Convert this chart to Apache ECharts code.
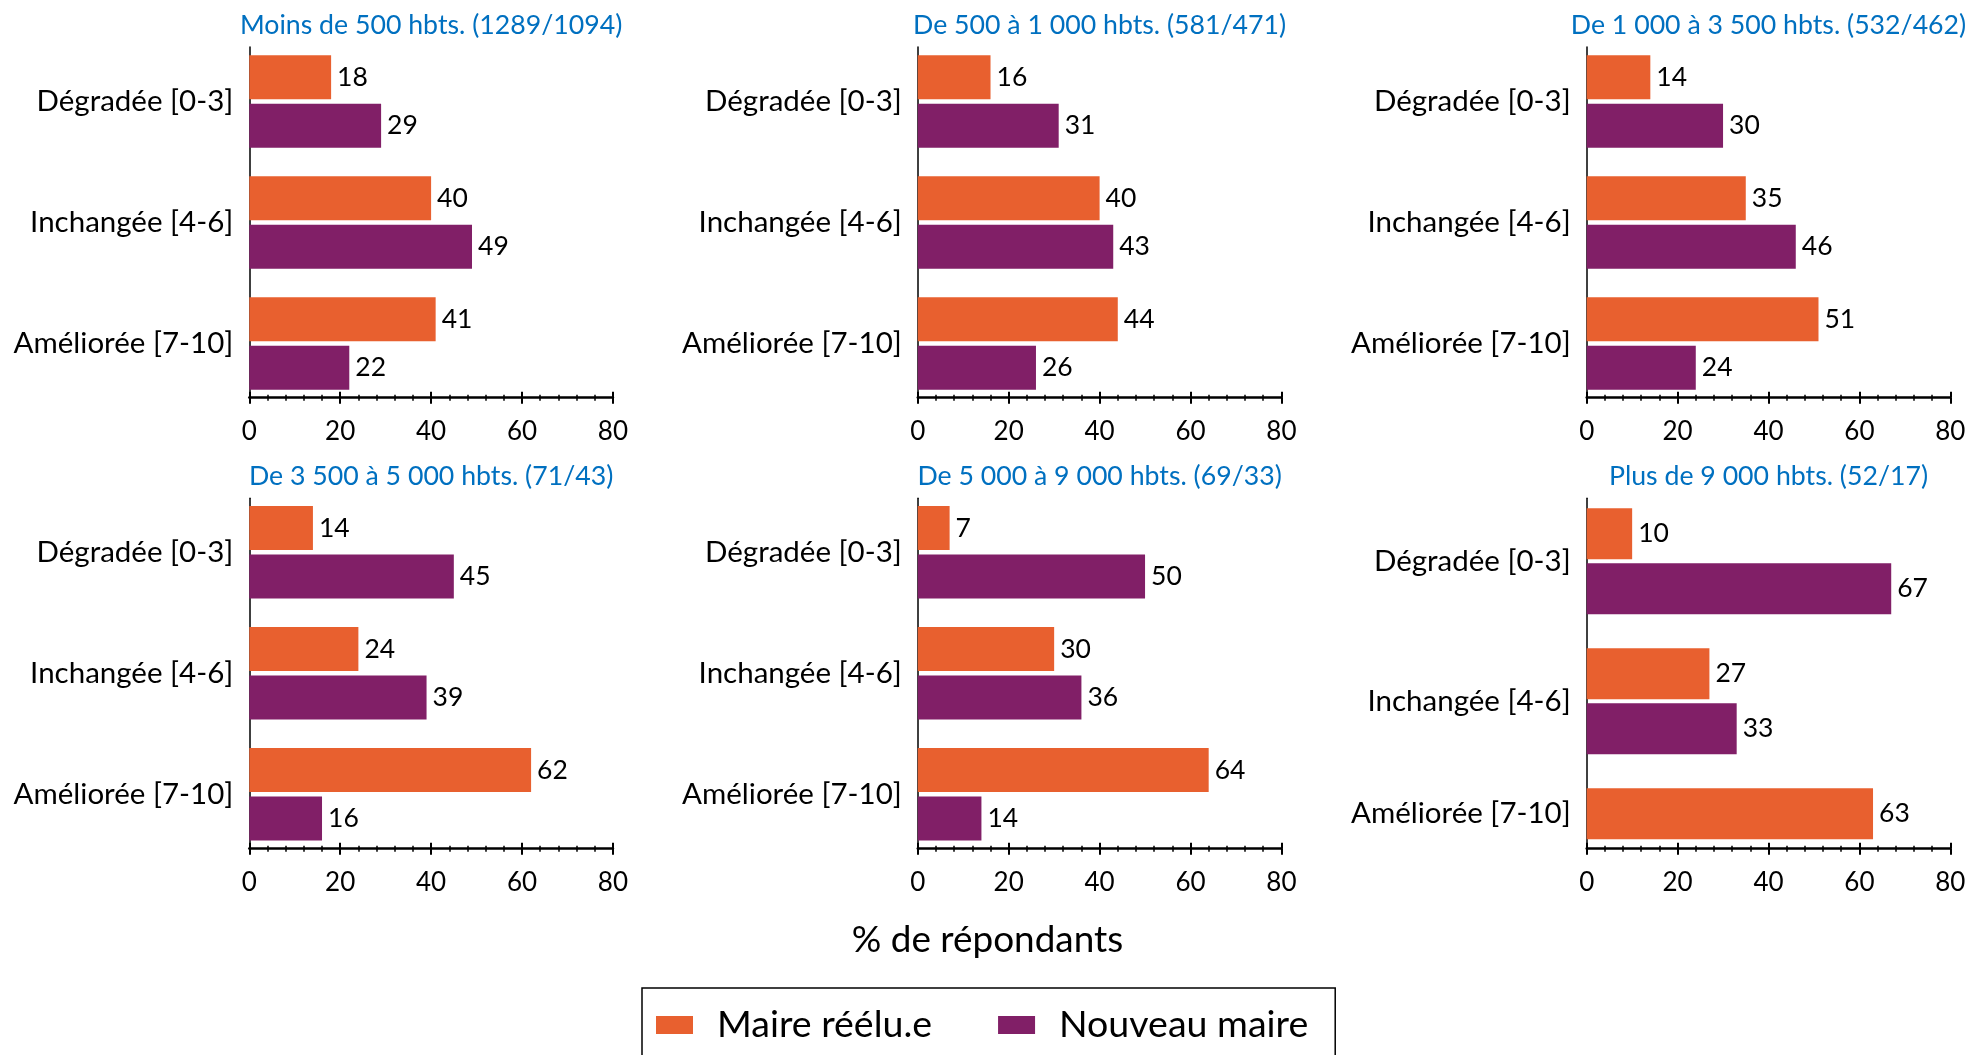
<!DOCTYPE html>
<html><head><meta charset="utf-8">
<script src="https://cdn.jsdelivr.net/npm/echarts@6/dist/echarts.min.js"></script>
<style>html,body{margin:0;padding:0;background:#fff}#c{width:1971px;height:1055px}</style>
</head><body><div id="c"></div>
<script>
const categories = ['Dégradée [0-3]', 'Inchangée [4-6]', 'Améliorée [7-10]'];
const panelTitles = ['Moins de 500 hbts. (1289/1094)', 'De 500 à 1 000 hbts. (581/471)', 'De 1 000 à 3 500 hbts. (532/462)',
                     'De 3 500 à 5 000 hbts. (71/43)', 'De 5 000 à 9 000 hbts. (69/33)', 'Plus de 9 000 hbts. (52/17)'];
const seriesNames = ['Maire réélu.e', 'Nouveau maire'];
const maireReelu = [[18, 40, 41], [16, 40, 44], [14, 35, 51], [14, 24, 62], [7, 30, 64], [10, 27, 63]];
const nouveauMaire = [[29, 49, 22], [31, 43, 26], [30, 46, 24], [45, 39, 16], [50, 36, 14], [67, 33, 0]];
const xTicks = [0, 20, 40, 60, 80];
const axisTitle = '% de répondants';

const FONT = 'Lato';
const ORANGE = '#E8602F', PURPLE = '#811F67';
const colLeft = [249.3, 917.8, 1586.7];
const plotW = 363.6;
const rowFrameTop = [47, 498.3];
const rowAxisY = [397.7, 848.7];
const rowTitleY = [25, 476.5];
const fs = { cat: 29.5, title: 26.7, tick: 26, data: 26.5, axisTitle: 36.9, legend: 37.5 };

const grids = [], xAxes = [], yAxes = [], series = [], titles = [];
const colors = [ORANGE, PURPLE];
for (let p = 0; p < 6; p++) {
  const col = p % 3, row = Math.floor(p / 3);
  const last = p === 5;
  const bandH = last ? 140 : 121;
  const c0 = last ? 561.2 : (row === 0 ? 101.5 : 552.2);
  const gB = grids.length;
  grids.push({ left: colLeft[col], top: c0 - bandH / 2, width: plotW, height: bandH * 3 });
  const gF = grids.length;
  grids.push({ left: colLeft[col], top: rowFrameTop[row], width: plotW, height: rowAxisY[row] - rowFrameTop[row] });

  const xB = xAxes.length;
  xAxes.push({ gridIndex: gB, type: 'value', min: xTicks[0], max: xTicks[xTicks.length - 1], interval: 20, show: false });
  const tickCommon = { gridIndex: gF, type: 'value', min: xTicks[0], max: xTicks[xTicks.length - 1], interval: 20, position: 'bottom', splitLine: { show: false } };
  xAxes.push(Object.assign({}, tickCommon, {
    axisLine: { show: true, onZero: false, lineStyle: { color: '#000', width: 2.5 } },
    axisTick: { show: true, length: 6, lineStyle: { color: '#000', width: 2 } },
    minorTick: { show: true, splitNumber: 5, length: 3, lineStyle: { color: '#000', width: 1.5 } },
    axisLabel: { show: true, margin: 21, color: '#000', fontSize: fs.tick, fontFamily: FONT,
      formatter: v => xTicks.indexOf(v) >= 0 ? String(v) : '' }
  }));
  xAxes.push(Object.assign({}, tickCommon, {
    axisLine: { show: false },
    axisTick: { show: true, inside: true, length: 6, lineStyle: { color: '#000', width: 2 } },
    minorTick: { show: true, splitNumber: 5, length: 3, lineStyle: { color: '#000', width: 1.5 } },
    axisLabel: { show: false }
  }));

  const yB = yAxes.length;
  yAxes.push({ gridIndex: gB, type: 'category', data: categories, inverse: true,
    axisLine: { show: false }, axisTick: { show: false }, splitLine: { show: false },
    axisLabel: { margin: 16, color: '#000', fontSize: fs.cat, fontFamily: FONT,
      formatter: (v, i) => (last && i === 2) ? '{up|' + v + '}' : v,
      rich: { up: { fontSize: fs.cat, fontFamily: FONT, color: '#000', padding: [0, 0, 56, 0] } } } });
  yAxes.push({ gridIndex: gF, type: 'value', min: 0, max: 1,
    axisLine: { show: true, onZero: false, lineStyle: { color: '#000', width: 1.5 } },
    axisTick: { show: false }, axisLabel: { show: false }, splitLine: { show: false } });

  [maireReelu[p], nouveauMaire[p]].forEach((vals, s) => {
    series.push({
      type: 'bar', name: seriesNames[s], xAxisIndex: xB, yAxisIndex: yB, data: vals,
      barWidth: last ? 51 : 44, barGap: last ? '8%' : '10%',
      itemStyle: { color: colors[s] },
      label: { show: true, position: 'right', distance: 6, color: '#000', fontSize: fs.data, fontFamily: FONT,
        formatter: d => d.value === 0 ? '' : String(d.value) },
      emphasis: { disabled: true }, animation: false
    });
  });

  titles.push({ text: panelTitles[p], left: colLeft[col] + plotW / 2, top: rowTitleY[row] - 17, textAlign: 'center', padding: 0,
    textStyle: { color: '#0070C0', fontSize: fs.title, fontFamily: FONT, fontWeight: 'normal', lineHeight: 34 } });
}
titles.push({ text: axisTitle, left: 987.5, top: 940.5 - 23, textAlign: 'center', padding: 0,
  textStyle: { color: '#000', fontSize: fs.axisTitle, fontFamily: FONT, fontWeight: 'normal', lineHeight: 46 } });

const chart = echarts.init(document.getElementById('c'), null, { renderer: 'canvas' });
chart.setOption({
  animation: false,
  title: titles,
  grid: grids, xAxis: xAxes, yAxis: yAxes, series: series,
  legend: {
    data: seriesNames, left: 642, top: 988, orient: 'horizontal', selectedMode: false,
    icon: 'rect', itemWidth: 37, itemHeight: 18, itemGap: 66,
    padding: [13, 27, 60, 14], borderColor: '#000', borderWidth: 1.5,
    textStyle: { color: '#000', fontSize: fs.legend, fontFamily: FONT, padding: [0, 0, 0, 19], lineHeight: 48 }
  }
});
</script></body></html>
